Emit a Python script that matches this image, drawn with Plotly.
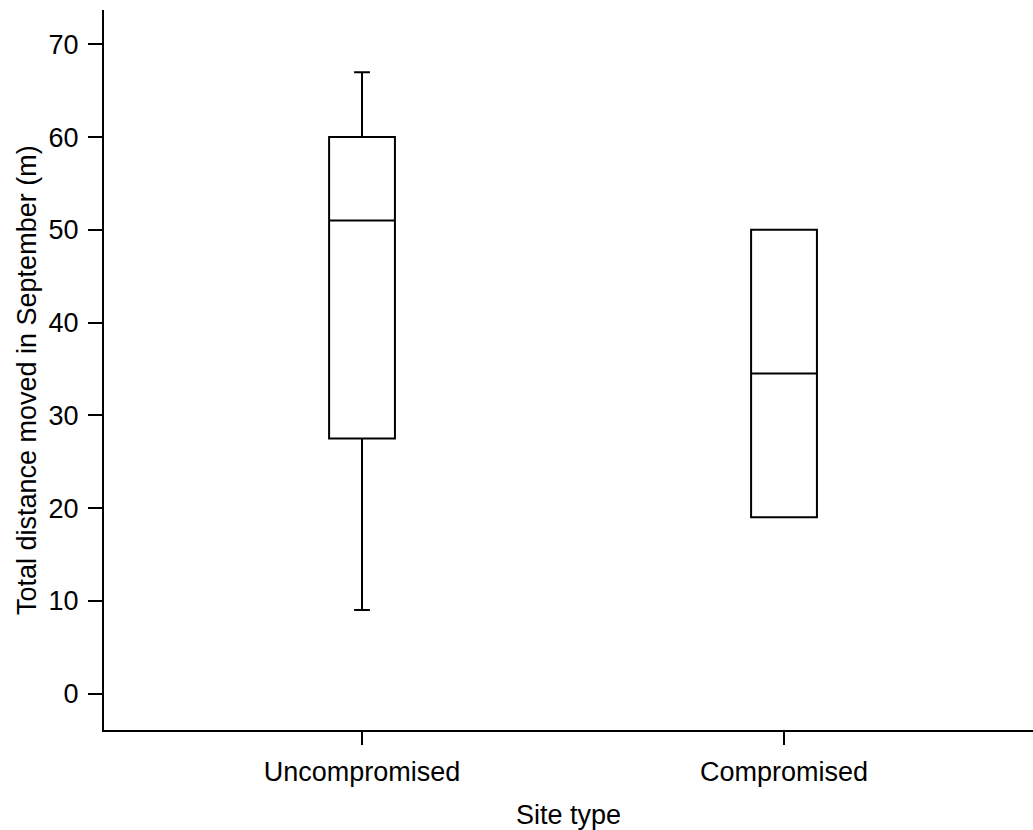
import plotly.graph_objects as go

categories = ["Uncompromised", "Compromised"]
lower = [9, 19]
q1 = [27.5, 19]
median = [51, 34.5]
q3 = [60, 50]
upper = [67, 50]

fig = go.Figure()
for i, c in enumerate(categories):
    fig.add_trace(go.Box(
        x=[c], q1=[q1[i]], median=[median[i]], q3=[q3[i]],
        lowerfence=[lower[i]], upperfence=[upper[i]],
        width=0.156, whiskerwidth=0.24,
        fillcolor="white", line=dict(color="black", width=2),
        boxpoints=False, showlegend=False, hoverinfo="skip",
    ))

font = dict(family="Liberation Sans, Arial, sans-serif", size=27, color="black")
fig.update_layout(
    width=1033, height=830,
    margin=dict(l=104, r=0, t=10, b=100),
    paper_bgcolor="white", plot_bgcolor="white",
    font=font,
    xaxis=dict(
        type="category", categoryorder="array", categoryarray=categories,
        range=[-0.6114, 1.590],
        showline=True, linecolor="black", linewidth=2,
        ticks="outside", ticklen=13, tickwidth=2, tickcolor="black",
        tickfont=dict(size=27), ticklabelstandoff=4,
        showgrid=False, zeroline=False,
        title=dict(text="Site type", standoff=20, font=dict(size=27)),
    ),
    yaxis=dict(
        range=[-3.93, 73.7],
        tickvals=[0, 10, 20, 30, 40, 50, 60, 70],
        showline=True, linecolor="black", linewidth=2,
        ticks="outside", ticklen=14, tickwidth=2, tickcolor="black",
        tickfont=dict(size=27), ticklabelstandoff=4,
        showgrid=False, zeroline=False,
    ),
    annotations=[dict(
        text="Total distance moved in September (m)", textangle=-90,
        xref="paper", yref="paper", x=0, y=0.486, xanchor="center", yanchor="middle",
        xshift=-77, showarrow=False, font=dict(size=27),
    )],
)
fig.write_html("out.html")
